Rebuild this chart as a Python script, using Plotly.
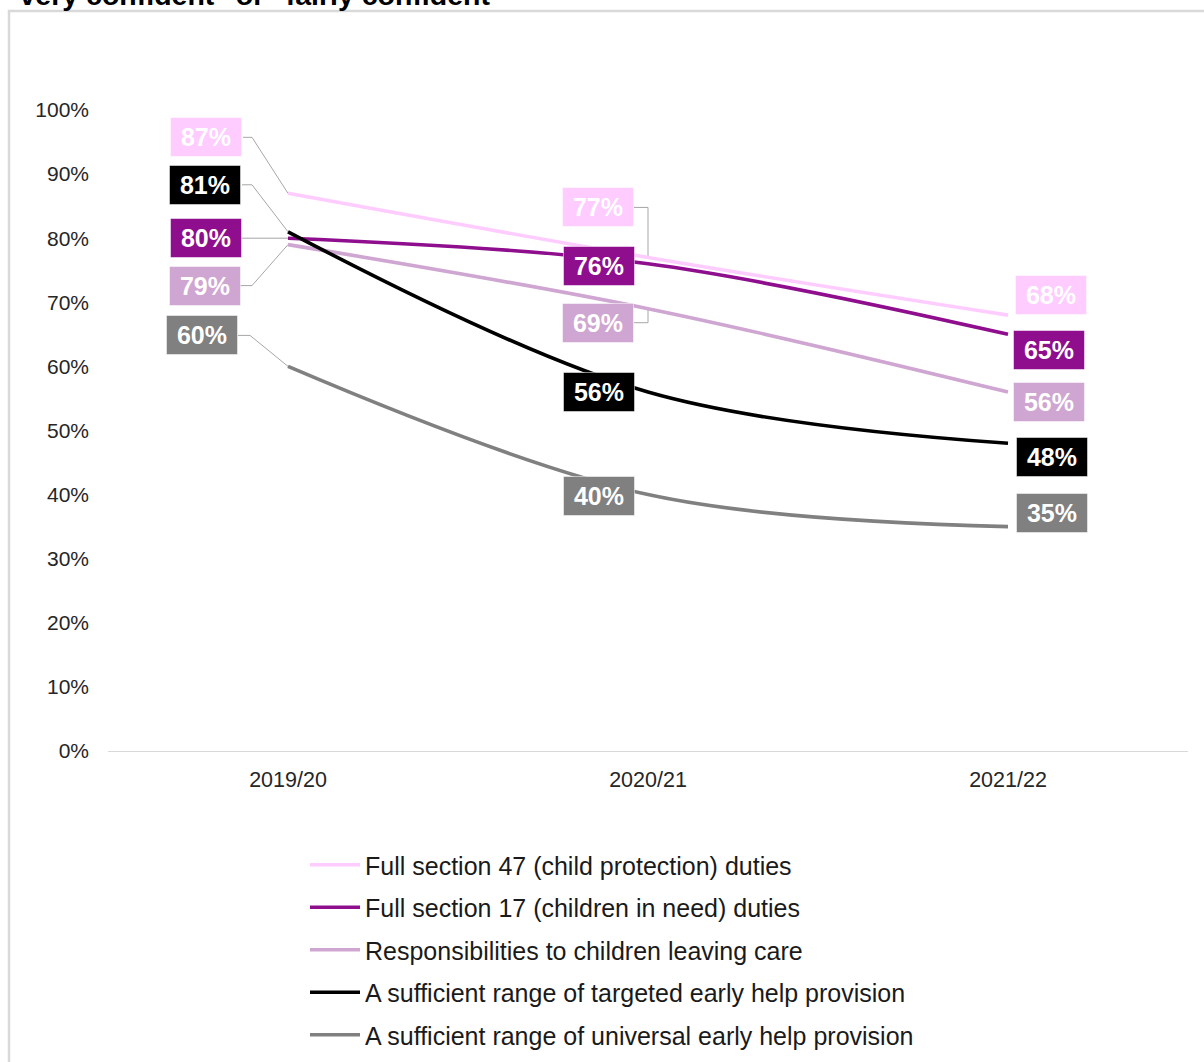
import plotly.graph_objects as go

# ---- data -------------------------------------------------------------
categories = ["2019/20", "2020/21", "2021/22"]

series_names = [
    "Full section 47 (child protection) duties",
    "Full section 17 (children in need) duties",
    "Responsibilities to children leaving care",
    "A sufficient range of targeted early help provision",
    "A sufficient range of universal early help provision",
]
section_47 = [87, 77, 68]
section_17 = [80, 76, 65]
leaving_care = [79, 69, 56]
targeted_early_help = [81, 56, 48]
universal_early_help = [60, 40, 35]

y_ticks = [0, 10, 20, 30, 40, 50, 60, 70, 80, 90, 100]
y_tick_labels = [f"{t}%" for t in y_ticks]

# ---- styling ----------------------------------------------------------
series_values = [section_47, section_17, leaving_care,
                 targeted_early_help, universal_early_help]
colors = ["#FFCCFF", "#8E0E8E", "#CFA6D1", "#000000", "#808080"]

# label box offsets (pixels, relative to each point) per series / year
label_shift = [
    [(-82, 56), (-50, 50), (43, 20)],
    [(-82, 0), (-49, -2), (41, -16)],
    [(-83, -41), (-50, -14), (41, -10)],
    [(-83, 47), (-49, 0), (44, -14)],
    [(-86, 31), (-49, -1), (44, 14)],
]
# leader lines (pixel paths from the point to the label box)
leaders = {
    (0, 0): [(0, 0), (-36, 56), (-45, 56)],
    (3, 0): [(0, 0), (-36, 47), (-46, 47)],
    (1, 0): [(0, 0), (-47, 0)],
    (2, 0): [(0, 0), (-36, -41), (-48, -41)],
    (4, 0): [(0, 0), (-38, 31), (-50, 31)],
    (0, 1): [(0, 0), (0, 50), (-14, 50)],
    (2, 1): [(0, 0), (0, -14), (-14, -14)],
}

FONT = "Arial, Liberation Sans, sans-serif"
W, H = 1204, 1062

fig = go.Figure()

for i, (name, vals, col) in enumerate(zip(series_names, series_values, colors)):
    fig.add_trace(go.Scatter(
        x=categories, y=vals, name=name, mode="lines",
        line=dict(color=col, width=3.6, shape="spline", smoothing=1.0),
        legendgroup=f"g{i}", hoverinfo="skip",
    ))

annotations = []
shapes = []
for i, (vals, col) in enumerate(zip(series_values, colors)):
    for j, v in enumerate(vals):
        dx, dy = label_shift[i][j]
        annotations.append(dict(
            x=categories[j], y=v, xref="x", yref="y",
            text=f"<b>{v}%</b>", showarrow=False,
            xshift=dx, yshift=dy,
            font=dict(family=FONT, size=25, color="#FFFFFF"),
            bgcolor=col, bordercolor="rgba(255,255,255,0.5)", borderwidth=1,
            borderpad=3, width=64, height=32, align="center", valign="middle",
        ))
        if (i, j) in leaders:
            pts = leaders[(i, j)]
            path = "M " + " L ".join(f"{px},{py}" for px, py in pts)
            shapes.append(dict(
                type="path", xref="x", yref="y",
                xsizemode="pixel", ysizemode="pixel",
                xanchor=categories[j], yanchor=v, path=path,
                line=dict(color="#A6A6A6", width=1), layer="below",
            ))

# frame around the chart
shapes.append(dict(
    type="rect", xref="paper", yref="paper",
    x0=(9 - 108) / 1080, x1=(1260 - 108) / 1080,
    y0=(751 - 1120) / 641, y1=(751 - 11) / 641,
    line=dict(color="#D9D9D9", width=2.5), fillcolor="rgba(0,0,0,0)",
    layer="below",
))

# heading (its upper part runs off the top of the page)
annotations.append(dict(
    xref="paper", yref="paper", x=(4 - 108) / 1080, y=(751 - 13) / 641,
    xanchor="left", yanchor="bottom", showarrow=False,
    text='<b>"very confident" or "fairly confident"</b>',
    font=dict(family=FONT, size=28.5, color="#000000"),
))

fig.update_layout(
    width=W, height=H,
    margin=dict(l=108, r=16, t=110, b=311, autoexpand=False),
    paper_bgcolor="#FFFFFF", plot_bgcolor="#FFFFFF",
    font=dict(family=FONT, color="#262626"),
    xaxis=dict(
        type="category", range=[-0.5, 2.5],
        showgrid=False, zeroline=False, showline=True,
        linecolor="#D9D9D9", linewidth=1, ticks="",
        tickfont=dict(family=FONT, size=21.5, color="#262626"),
        ticklabelstandoff=9,
    ),
    yaxis=dict(
        range=[0, 100], tickvals=y_ticks, ticktext=y_tick_labels,
        showgrid=False, zeroline=False, showline=False, ticks="",
        tickfont=dict(family=FONT, size=21, color="#262626"),
        ticklabelstandoff=18,
    ),
    legend=dict(
        orientation="v", xref="container", yref="container",
        x=305 / W, xanchor="left",
        y=1 - 842 / H, yanchor="top",
        font=dict(family=FONT, size=25, color="#1A1A1A"),
        itemwidth=50, tracegroupgap=7, bgcolor="rgba(0,0,0,0)",
    ),
    showlegend=True,
    annotations=annotations,
    shapes=shapes,
)

fig.write_html("out.html")
